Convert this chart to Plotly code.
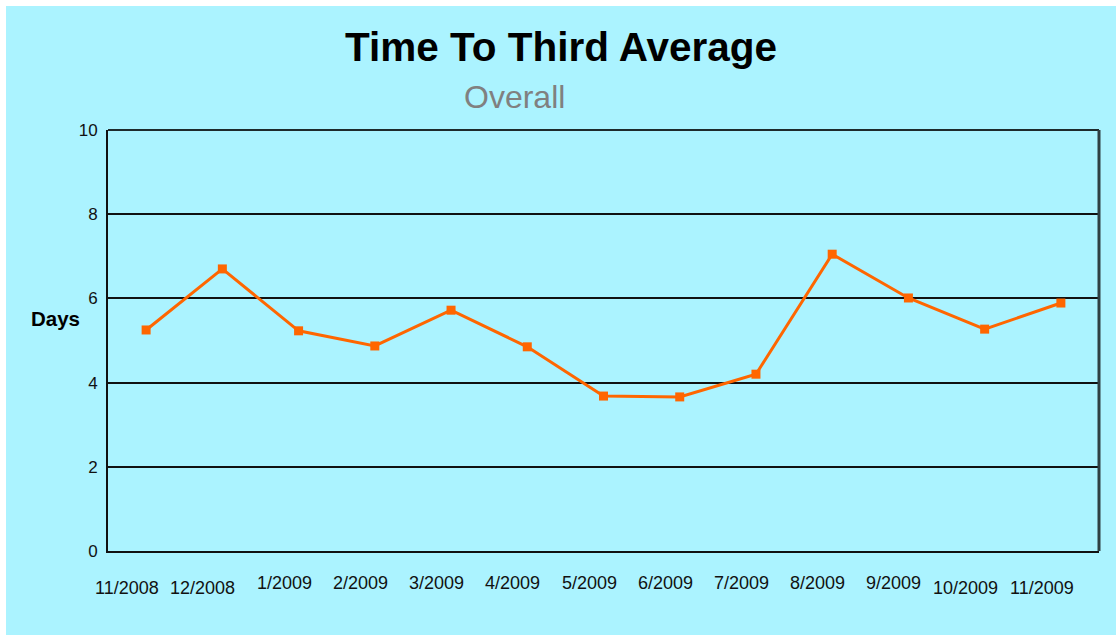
import plotly.graph_objects as go

# Monthly time-to-third-available averages (days)
months = ["11/2008", "12/2008", "1/2009", "2/2009", "3/2009", "4/2009", "5/2009",
          "6/2009", "7/2009", "8/2009", "9/2009", "10/2009", "11/2009"]
days = [5.25, 6.70, 5.23, 4.87, 5.72, 4.85, 3.68, 3.66, 4.20, 7.05, 6.01, 5.27, 5.89]
y_ticks = [0, 2, 4, 6, 8, 10]

W, H = 1116, 635
L, R, T, B = 108, 17, 130, 84
pw, ph = W - L - R, H - T - B

BG = "#ABF3FF"
ORANGE = "#FF6600"
FONT = "Liberation Sans, Arial, sans-serif"


def px_x(x):
    return (x - L) / pw


def px_y(y):
    return (H - B - y) / ph


fig = go.Figure()
fig.add_trace(go.Scatter(
    x=list(range(len(months))), y=days, mode="lines+markers",
    line=dict(color=ORANGE, width=3),
    marker=dict(symbol="square", size=9, color=ORANGE),
    hoverinfo="skip", showlegend=False,
))

annotations = []
# category labels end just right of their category; the wider ones sit a little lower
for i, m in enumerate(months):
    low = len(m) >= 7
    annotations.append(dict(
        x=i, xref="x", y=px_y(588 if low else 583), yref="paper",
        text=m, showarrow=False, xanchor="right", yanchor="middle", xshift=15,
        font=dict(family=FONT, size=18, color="#111111"),
    ))

annotations += [
    dict(x=px_x(561), y=px_y(47), xref="paper", yref="paper",
         text="<b>Time To Third Average</b>", showarrow=False,
         xanchor="center", yanchor="middle",
         font=dict(family=FONT, size=40.5, color="#000000")),
    dict(x=px_x(514.5), y=px_y(97), xref="paper", yref="paper",
         text="Overall", showarrow=False, xanchor="center", yanchor="middle",
         font=dict(family=FONT, size=32, color="#808080")),
    dict(x=px_x(55.5), y=px_y(318), xref="paper", yref="paper",
         text="<b>Days</b>", showarrow=False, xanchor="center", yanchor="middle",
         font=dict(family=FONT, size=20.5, color="#000000")),
]

shapes = [
    # white frame strips on the left and top edges
    dict(type="rect", xref="paper", yref="paper",
         x0=px_x(-5), x1=px_x(6), y0=px_y(H + 5), y1=px_y(-5),
         fillcolor="white", line=dict(width=0), layer="below"),
    dict(type="rect", xref="paper", yref="paper",
         x0=px_x(-5), x1=px_x(W + 5), y0=px_y(6), y1=px_y(-5),
         fillcolor="white", line=dict(width=0), layer="below"),
    # top and right borders of the plot area
    dict(type="line", xref="paper", yref="paper", x0=0, x1=1, y0=1, y1=1,
         line=dict(color="#1E2A2C", width=2)),
    dict(type="line", xref="paper", yref="paper", x0=1, x1=1, y0=0, y1=1,
         line=dict(color="#2F3F42", width=3)),
]

fig.update_layout(
    width=W, height=H,
    margin=dict(l=L, r=R, t=T, b=B, pad=0),
    paper_bgcolor=BG, plot_bgcolor=BG,
    font=dict(family=FONT, color="#111111"),
    annotations=annotations, shapes=shapes,
    xaxis=dict(range=[-0.5, len(months) - 0.5], showgrid=False, zeroline=False,
               showticklabels=False, ticks="",
               showline=True, linecolor="#111111", linewidth=2),
    yaxis=dict(range=[0, 10], tickvals=y_ticks, ticktext=[str(v) for v in y_ticks],
               showgrid=True, gridcolor="#111111", gridwidth=1.5,
               zeroline=False, ticks="", ticklabelstandoff=5,
               tickfont=dict(family=FONT, size=17, color="#111111"),
               showline=True, linecolor="#111111", linewidth=2),
)

fig.write_html("out.html")
